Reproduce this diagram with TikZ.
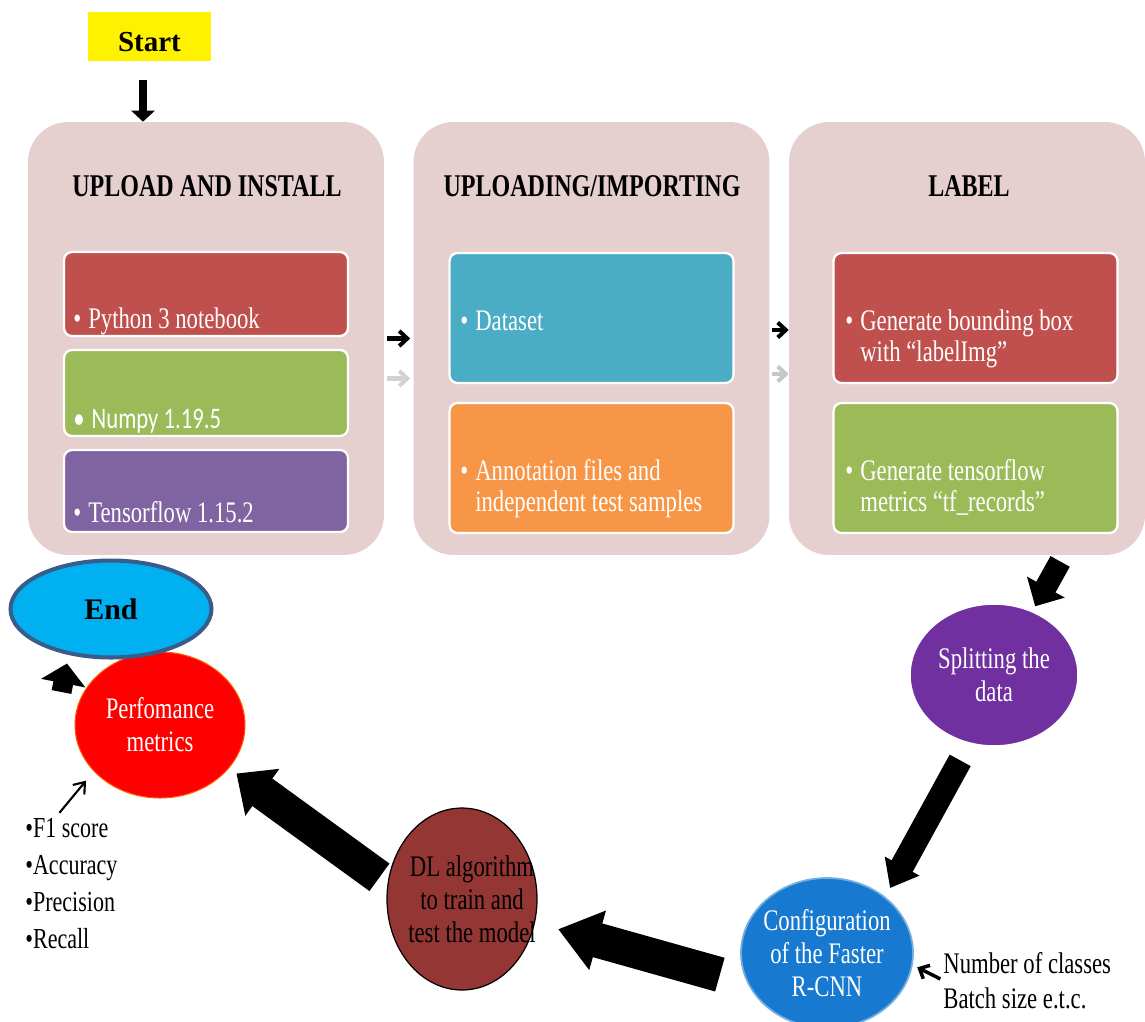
\documentclass[tikz,border=0pt]{standalone}
\usepackage{fontspec}
\setmainfont{Liberation Serif}[FakeStretch=0.76]
\newfontfamily\fullserif{Liberation Serif}
\newfontfamily\calib{Carlito}[FakeStretch=0.76]
\usetikzlibrary{arrows.meta,shapes.geometric,positioning}
\definecolor{stagepink}{HTML}{E6CFCF}
\definecolor{subred}{HTML}{C0504D}
\definecolor{subgreen}{HTML}{9BBB59}
\definecolor{subpurple}{HTML}{8064A2}
\definecolor{subblue}{HTML}{4BACC6}
\definecolor{suborange}{HTML}{F79646}
\definecolor{endcyan}{HTML}{00B0F0}
\definecolor{endblue}{HTML}{385D8A}
\definecolor{dlred}{HTML}{943634}
\definecolor{cfgblue}{HTML}{1779CF}
\definecolor{splitpurple}{HTML}{7030A0}
\newcommand{\bul}[1]{\textbullet\hspace{4pt}\begin{tabular}[t]{@{}l@{}}#1\end{tabular}}
\begin{document}
\begin{tikzpicture}[x=0.02cm,y=-0.02cm,line cap=butt,
	stage/.style={rectangle,rounded corners=0.8cm,fill=stagepink,minimum width=7.12cm,minimum height=8.66cm,inner sep=0pt},
	sub/.style={rectangle,rounded corners=0.16cm,draw=white,line width=1.3pt,minimum width=5.68cm,inner sep=0pt},
	head/.style={anchor=base,inner sep=0pt,font=\fontsize{18}{20}\selectfont\bfseries},
	item/.style={anchor=base west,inner sep=0pt,text=white,font=\fontsize{17}{18}\selectfont},
	blob/.style={ellipse,inner sep=0pt},
	lbl/.style={align=center,inner sep=0pt,font=\fontsize{17}{18.7}\selectfont},
	blk/.style args={#1/#2/#3}{draw=black,line width=#1,-{Triangle[width=#2,length=#3]}},
	chev/.style={line width=2.3pt,-{Straight Barb[length=0.16cm,width=0.3cm]}},
	thinarr/.style={line width=1.2pt,-{Straight Barb[length=0.2cm,width=0.3cm]}}
	]
	\useasboundingbox (0,0) rectangle (1145,1021);
	\node[stage] (up) at (206,338.5) {};
	\node[stage] (imp) at (591.5,338.5) {};
	\node[stage] (lab) at (967,338.5) {};
	\node[head] (t1) at (207,196) {UPLOAD AND INSTALL};
	\node[head] (t2) at (592,196) {UPLOADING/IMPORTING};
	\node[head] (t3) at (969,196) {LABEL};
	\foreach \n/\x/\y/\h/\c in {py/206/294/84/subred,np/206/393/86/subgreen,tf/206/491/82/subpurple,
		ds/591.5/318/130/subblue,an/591.5/468/130/suborange,bb/975.5/318/130/subred,tr/975.5/468/130/subgreen}
	\node[sub,fill=\c,minimum height=\h*0.02cm] (\n) at (\x,\y) {};
	\node[item] (pyt) at (73,328) {\bul{Python 3 notebook}};
	\node[item,font=\calib\fontsize{17}{18}\selectfont] (npt) at (73,428) {\bul{Numpy 1.19.5}};
	\node[item] (tft) at (73,522) {\bul{Tensorflow 1.15.2}};
	\node[item] (dst) at (460,330) {\bul{Dataset}};
	\node[item] (ant) at (460,480) {\bul{Annotation files and\\independent test samples}};
	\node[item] (bbt) at (845,330) {\bul{Generate bounding box\\with “labelImg”}};
	\node[item] (trt) at (845,480) {\bul{Generate tensorflow\\metrics “tf\_records”}};
	\node[fill=yellow,minimum width=2.46cm,minimum height=0.98cm,inner sep=0pt,text height=0.6cm,
		font=\fullserif\bfseries\fontsize{16.5}{18}\selectfont] (start) at (149.5,36.5) {Start\hspace{8pt}};
	\node[blob,fill=red,draw=orange!70!red,line width=0.6pt,minimum width=3.4cm,minimum height=2.92cm,
		label={[lbl,text=white]center:Perfomance\\metrics}] (perf) at (160,725) {};
	\node[blob,fill=endcyan,draw=endblue,line width=2.3pt,minimum width=4.02cm,minimum height=1.94cm,
		font=\fullserif\bfseries\fontsize{17}{20}\selectfont] (fin) at (111,609) {End};
	\node[blob,fill=splitpurple,draw=white,line width=2pt,minimum width=3.4cm,minimum height=2.88cm,
		label={[lbl,text=white]center:Splitting the\\data}] (split) at (994,675) {};
	\node[blob,fill=cfgblue,draw=cfgblue!60!white,line width=1pt,minimum width=3.44cm,minimum height=3cm,
		label={[lbl,text=white]center:Configuration\\of the Faster\\R-CNN}] (cfg) at (827,953) {};
	\node[blob,fill=dlred,draw=black,line width=0.7pt,minimum width=3cm,minimum height=3.64cm,
		label={[lbl,xshift=0.2cm]center:DL algorithm\\to train and\\test the model}] (dl) at (462,899) {};
	\node[anchor=base west,align=left,inner sep=0pt,font=\fontsize{16.5}{21}\selectfont] (mets) at (25,948)
		{\textbullet F1 score\\\textbullet Accuracy\\\textbullet Precision\\\textbullet Recall};
	\node[anchor=base west,align=left,inner sep=0pt,font=\fontsize{17}{19.8}\selectfont] (nums) at (943,1008)
		{Number of classes\\Batch size e.t.c.};
	\draw[blk={0.16cm/0.46cm/0.22cm}] ([xshift=-0.13cm,yshift=-0.38cm]start.south) -- ([xshift=-0.13cm]start.south |- up.north);
	\draw[chev,shorten <=0.06cm,shorten >=0.06cm] (up.east) -- (imp.west);
	\draw[chev,gray!35,shorten <=0.06cm,shorten >=0.06cm] ([yshift=-0.8cm]up.east) -- ([yshift=-0.8cm]imp.west);
	\draw[chev,shorten <=0.04cm] ([yshift=0.17cm]imp.east) -- ([yshift=0.17cm]lab.west);
	\draw[chev,gray!45,shorten <=0.04cm] ([yshift=-0.71cm]imp.east) -- ([yshift=-0.71cm]lab.west);
	\draw[blk={0.44cm/0.84cm/0.44cm},shorten <=0.14cm,shorten >=0.07cm] (lab.-66) -- (split.59);
	\draw[blk={0.48cm/0.76cm/0.5cm},shorten <=0.34cm,shorten >=0.2cm] (split.-110) -- (cfg.44);
	\draw[blk={0.7cm/1.18cm/0.82cm},shorten <=0.56cm,shorten >=0.48cm] (cfg.200) -- (dl.-18);
	\draw[blk={0.68cm/1.12cm/0.64cm},shorten <=0.2cm,shorten >=0.18cm] (dl.168) -- (perf.-32);
	\draw[blk={0.4cm/0.88cm/0.4cm}] ([xshift=-0.26cm,yshift=0.66cm]perf.west) -- ([xshift=-0.88cm,yshift=-0.08cm]fin.south);
	\draw[thinarr,shorten >=0.24cm] ([xshift=-0.24cm,yshift=0.1cm]mets.north) -- (perf.215);
	\draw[line width=2pt,-{Straight Barb[length=0.16cm,width=0.3cm]},shorten <=0.06cm,shorten >=0.1cm] (nums.west) -- (cfg.-8);
\end{tikzpicture}
\end{document}
